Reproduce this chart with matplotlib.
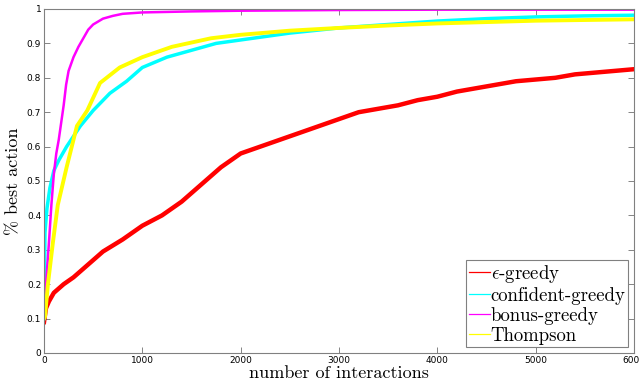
import matplotlib
matplotlib.use("Agg")
import matplotlib.pyplot as plt
import numpy as np

plt.rcParams['mathtext.fontset'] = 'cm'
plt.rcParams['axes.unicode_minus'] = False

# values (x = interactions, y = fraction best action)
x_red = [0, 20, 50, 100, 200, 300, 400, 500, 600, 800, 1000, 1200, 1400, 1600, 1800,
         2000, 2200, 2400, 2600, 2800, 3000, 3200, 3400, 3600, 3800, 4000, 4200, 4400,
         4600, 4800, 5000, 5200, 5400, 5600, 5800, 6000]
eps_greedy = [0.09, 0.13, 0.15, 0.175, 0.20, 0.22, 0.245, 0.27, 0.295, 0.33, 0.37, 0.40,
              0.44, 0.49, 0.54, 0.58, 0.60, 0.62, 0.64, 0.66, 0.68, 0.70, 0.71, 0.72,
              0.735, 0.745, 0.76, 0.77, 0.78, 0.79, 0.795, 0.80, 0.81, 0.815, 0.82, 0.825]

x_cyan = [0, 10, 30, 60, 100, 150, 230, 300, 370, 500, 670, 840, 1000, 1250, 1500, 1750,
          2000, 2500, 3000, 3500, 4000, 4500, 5000, 5500, 6000]
confident_greedy = [0.10, 0.35, 0.42, 0.48, 0.53, 0.56, 0.60, 0.63, 0.66, 0.705, 0.755,
                    0.79, 0.83, 0.86, 0.88, 0.90, 0.91, 0.93, 0.945, 0.955, 0.965,
                    0.972, 0.977, 0.98, 0.982]

x_mag = [0, 25, 50, 75, 100, 125, 150, 175, 200, 225, 250, 300, 350, 400, 450, 500, 600,
         700, 800, 1000, 1500, 2000, 3000, 4000, 6000]
bonus_greedy = [0.12, 0.22, 0.32, 0.43, 0.52, 0.58, 0.62, 0.67, 0.72, 0.78, 0.82, 0.86,
                0.89, 0.915, 0.94, 0.955, 0.972, 0.98, 0.986, 0.99, 0.993, 0.995,
                0.997, 0.998, 0.998]

x_yel = [0, 10, 40, 90, 140, 230, 335, 440, 570, 770, 1000, 1300, 1700, 2000, 2500,
         3000, 3500, 4000, 4500, 5000, 5500, 6000]
thompson = [0.10, 0.105, 0.20, 0.32, 0.43, 0.54, 0.66, 0.705, 0.785, 0.83, 0.86, 0.89,
            0.915, 0.925, 0.937, 0.945, 0.952, 0.958, 0.962, 0.966, 0.968, 0.97]

xticks = [0, 1000, 2000, 3000, 4000, 5000, 6000]
yticks = [0, 0.1, 0.2, 0.3, 0.4, 0.5, 0.6, 0.7, 0.8, 0.9, 1]
ytick_labels = ['0', '0.1', '0.2', '0.3', '0.4', '0.5', '0.6', '0.7', '0.8', '0.9', '1']

fig = plt.figure(figsize=(6.39, 3.83), dpi=100)
ax = fig.add_axes([44/639, 30/383, 590/639, 344/383])

ax.plot(x_red, eps_greedy, color='#ff0000', lw=3.2, label=r'$\epsilon$-greedy')
ax.plot(x_cyan, confident_greedy, color='#00ffff', lw=2.5, label='confident-greedy')
ax.plot(x_mag, bonus_greedy, color='#ff00ff', lw=1.8, label='bonus-greedy')
ax.plot(x_yel, thompson, color='#ffff00', lw=2.8, label='Thompson')

ax.set_xlim(0, 6000)
ax.set_ylim(0, 1)
ax.set_xticks(xticks)
ax.set_xticklabels([str(t) for t in xticks], fontsize=6.5, family='DejaVu Sans')
ax.set_yticks(yticks)
ax.set_yticklabels(ytick_labels, fontsize=6.5, family='DejaVu Sans')
ax.tick_params(direction='in', top=True, right=True, length=4, width=0.6,
               color='#707070', pad=2)
for s in ax.spines.values():
    s.set_color('#808080')
    s.set_linewidth(0.8)

ax.set_xlabel('number of interactions', family='cmr10', fontsize=13, labelpad=1)
ax.set_ylabel('% best action', family='cmr10', fontsize=13, labelpad=4)

leg = ax.legend(loc='lower right', prop={'family': 'cmr10', 'size': 13.5},
                fancybox=False, framealpha=1, edgecolor='#808080',
                handlelength=1.1, handletextpad=0.05, borderpad=0.15,
                labelspacing=0.1, borderaxespad=0.3)
leg.get_frame().set_linewidth(0.8)
for h in leg.legend_handles:
    h.set_linewidth(0.9)

fig.savefig('out.png', dpi=100)
